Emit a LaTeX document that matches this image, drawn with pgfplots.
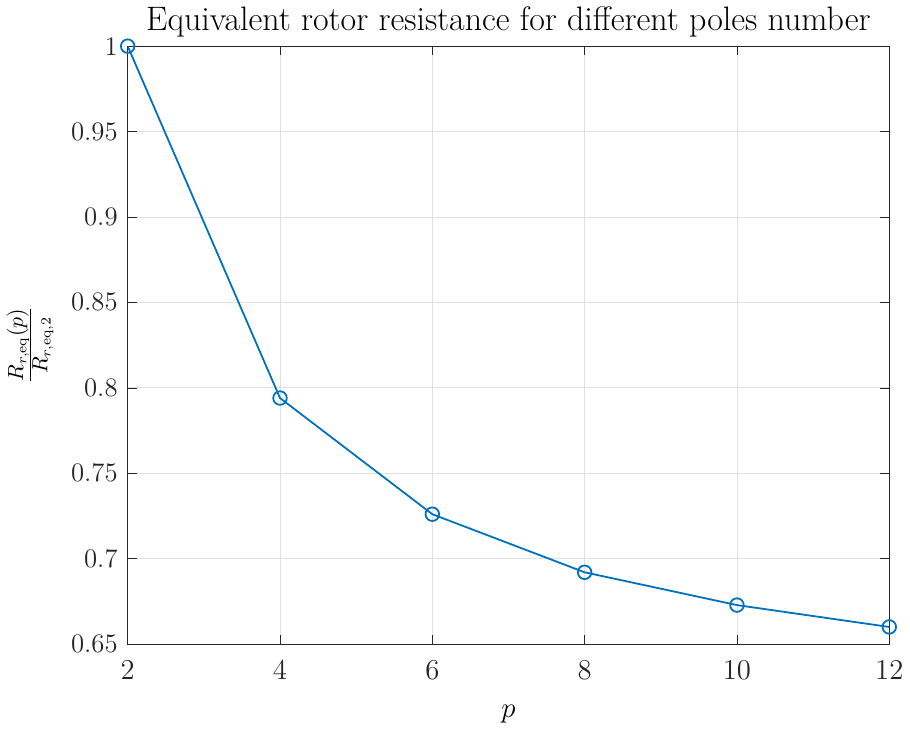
\documentclass[border=0pt]{standalone}
\usepackage{pgfplots}
\pgfplotsset{compat=1.18}
\definecolor{mblue}{rgb}{0,0.447,0.741}
\begin{document}
\begin{tikzpicture}
\begin{axis}[
  scale only axis,
  width=381.5pt, height=299.5pt,
  xmin=2, xmax=12, ymin=0.65, ymax=1,
  xtick={2,4,...,12},
  ytick={0.65,0.7,...,1.0},
  yticklabels={0.65,0.7,0.75,0.8,0.85,0.9,0.95,1},
  scaled y ticks=false,
  tick align=inside,
  axis line style={black!85},
  tick style={black!85},
  major tick length=4.5pt,
  grid=major,
  grid style={black!12},
  ticklabel style={font=\fontsize{13.4}{16}\selectfont, black!85},
  xticklabel style={yshift=-5pt},
  yticklabel style={xshift=-1.5pt},
  title={Equivalent rotor resistance for different poles number},
  title style={font=\fontsize{17}{20}\selectfont, yshift=-5pt},
  xlabel={$p$},
  xlabel style={font=\fontsize{15}{18}\selectfont, yshift=-6pt},
  ylabel={$\frac{R_{r,\mathrm{eq}}(p)}{R_{r,\mathrm{eq},2}}$},
  ylabel style={font=\fontsize{15}{18}\selectfont, yshift=2pt},
]
\addplot[mblue, line width=0.9pt, mark=o, mark size=3.4pt, mark options={line width=0.9pt}]
coordinates {(2,1.0) (4,0.794) (6,0.726) (8,0.692) (10,0.6728) (12,0.660)};
\end{axis}
\end{tikzpicture}
\end{document}
